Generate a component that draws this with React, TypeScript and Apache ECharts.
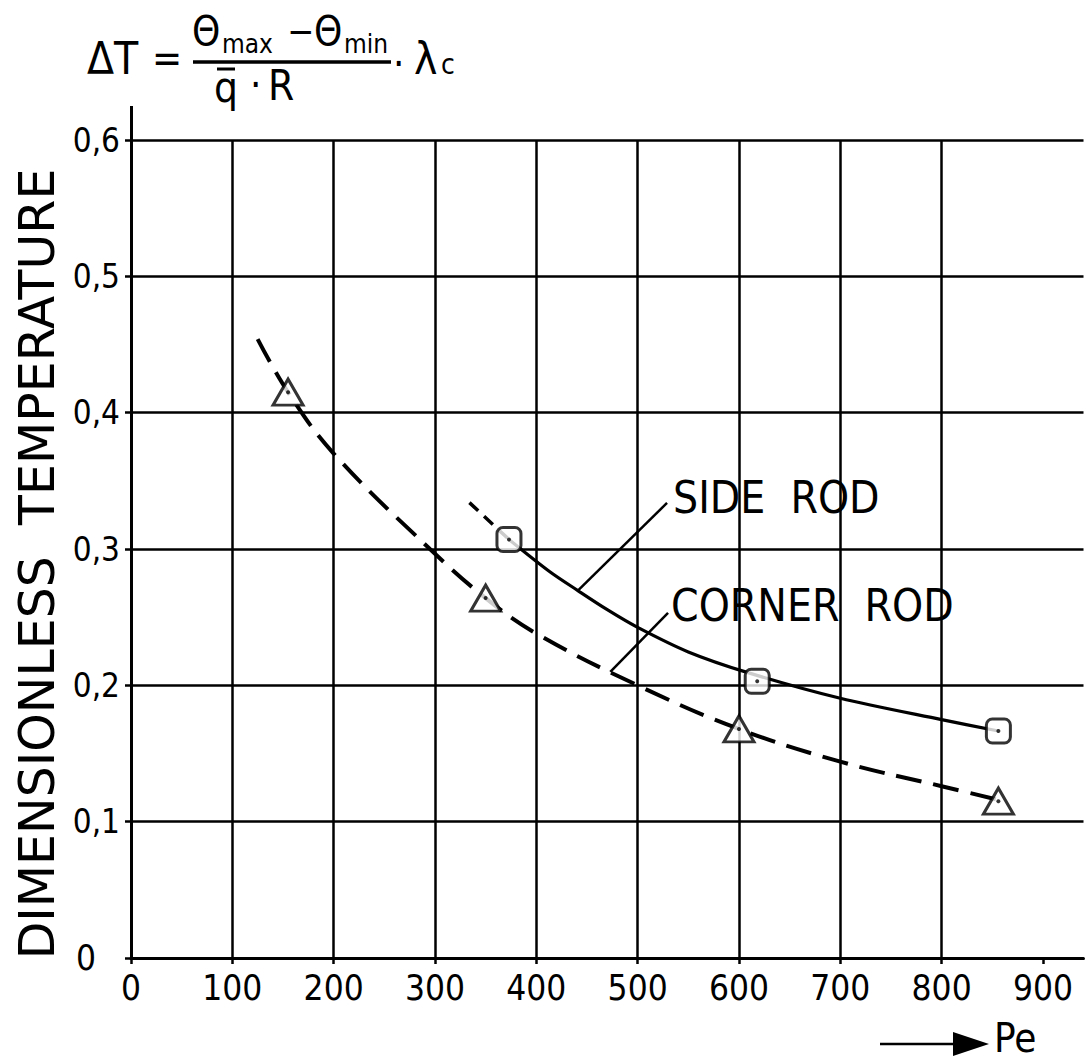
import React, { useEffect, useRef } from 'react';
import * as echarts from 'echarts';

// ---- data ----
const xTickValues = [0, 100, 200, 300, 400, 500, 600, 700, 800, 900];
const yTickValues = [0, 0.1, 0.2, 0.3, 0.4, 0.5, 0.6];

// measured points (Pe, dimensionless temperature)
const sideRodPoints = [
  [373, 0.307],
  [618, 0.203],
  [856, 0.1665],
];
const cornerRodPoints = [
  [155, 0.415],
  [350, 0.264],
  [600, 0.168],
  [856, 0.115],
];

// fitted curves
const sideRodCurveDashed = [
  [334, 0.334],
  [373, 0.307],
];
const sideRodCurve = [
  [373, 0.307],
  [413, 0.2835],
  [441, 0.2695],
  [470, 0.2555],
  [500, 0.2425],
  [550, 0.2245],
  [608, 0.2095],
  [700, 0.1905],
  [800, 0.1748],
  [856, 0.1665],
];
const cornerRodCurve = [
  [125, 0.454],
  [155, 0.415],
  [200, 0.37],
  [295, 0.3],
  [350, 0.264],
  [400, 0.238],
  [500, 0.2],
  [600, 0.168],
  [700, 0.144],
  [800, 0.126],
  [856, 0.116],
];

// leader lines of the labels
const sideRodLeader = [
  [441, 0.2695],
  [529, 0.3338],
];
const cornerRodLeader = [
  [473, 0.2098],
  [530, 0.2531],
];

const NUM_FONT = "'DejaVu Sans Condensed', sans-serif";
const TXT_FONT = "'DejaVu Sans Condensed', 'DejaVu Sans', sans-serif";

function App() {
  const ref = useRef<HTMLDivElement>(null);

  useEffect(() => {
    if (!ref.current) return;
    const chart = echarts.init(ref.current, undefined, { renderer: 'svg' });

    const txt = (x: number, y: number, text: string, size: number, align = 'left', font = TXT_FONT) => ({
      type: 'text',
      x,
      y,
      style: {
        text,
        fill: '#000',
        font: `${size}px ${font}`,
        textAlign: align,
        textVerticalAlign: 'middle',
      },
    });

    const option: any = {
      animation: false,
      backgroundColor: '#fff',
      grid: { left: 131, top: 140, width: 952.5, height: 818, containLabel: false, outerBoundsMode: 'none' },
      xAxis: {
        type: 'value',
        min: 0,
        max: 940,
        interval: 100,
        axisLine: { show: true, lineStyle: { color: '#000', width: 3 } },
        axisTick: { show: true, length: 6, inside: false, customValues: xTickValues, lineStyle: { color: '#000', width: 2.5 } },
        axisLabel: {
          customValues: xTickValues,
          margin: 12,
          color: '#000',
          fontSize: 35,
          fontFamily: NUM_FONT,
        },
        splitLine: { show: true, showMaxLine: false, lineStyle: { color: '#000', width: 2.5 } },
      },
      yAxis: {
        type: 'value',
        min: 0,
        max: 0.6,
        interval: 0.1,
        name: 'DIMENSIONLESS  TEMPERATURE',
        nameLocation: 'middle',
        nameRotate: 90,
        nameGap: 67,
        nameTextStyle: {
          color: '#000',
          fontSize: 49,
          fontFamily: "'DejaVu Sans', sans-serif",
          padding: [0, 30, 0, 0],
        },
        axisLine: { show: true, lineStyle: { color: '#000', width: 3 } },
        axisTick: { show: true, length: 6, inside: false, lineStyle: { color: '#000', width: 2.5 } },
        axisLabel: {
          margin: 11,
          color: '#000',
          fontSize: 33,
          fontFamily: NUM_FONT,
          formatter: (v: number) => (v === 0 ? '{z|0}' : v.toFixed(1).replace('.', ',')),
          rich: { z: { fontSize: 35, fontFamily: NUM_FONT, color: '#000', padding: [0, 24, 0, 0] } },
        },
        splitLine: { show: true, lineStyle: { color: '#000', width: 2.5 } },
      },
      series: [
        {
          name: 'CORNER ROD curve',
          type: 'line',
          data: cornerRodCurve,
          smooth: 0.4,
          symbol: 'none',
          lineStyle: { color: '#000', width: 4, type: [26, 12] },
          z: 3,
        },
        {
          name: 'SIDE ROD curve dashed',
          type: 'line',
          data: sideRodCurveDashed,
          symbol: 'none',
          lineStyle: { color: '#000', width: 3.5, type: [12, 8] },
          z: 3,
        },
        {
          name: 'SIDE ROD curve',
          type: 'line',
          data: sideRodCurve,
          smooth: 0.3,
          symbol: 'none',
          lineStyle: { color: '#000', width: 3.2 },
          z: 3,
        },
        {
          name: 'side leader',
          type: 'line',
          data: sideRodLeader,
          symbol: 'none',
          lineStyle: { color: '#000', width: 2.5 },
          z: 3,
        },
        {
          name: 'corner leader',
          type: 'line',
          data: cornerRodLeader,
          symbol: 'none',
          lineStyle: { color: '#000', width: 2.5 },
          z: 3,
        },
        {
          name: 'CORNER ROD',
          type: 'scatter',
          data: cornerRodPoints,
          symbol: 'triangle',
          symbolSize: [30, 26],
          itemStyle: { color: '#fff', borderColor: '#000', borderWidth: 3 },
          z: 5,
        },
        {
          name: 'SIDE ROD',
          type: 'scatter',
          data: sideRodPoints,
          symbol: 'roundRect',
          symbolSize: 24,
          itemStyle: { color: '#fff', borderColor: '#000', borderWidth: 3 },
          z: 5,
        },
        {
          name: 'dots',
          type: 'scatter',
          data: [...cornerRodPoints, ...sideRodPoints],
          symbol: 'circle',
          symbolSize: 4,
          itemStyle: { color: '#000' },
          z: 6,
        },
      ],
      graphic: [
        // y-axis extension above 0,6
        { type: 'line', shape: { x1: 131.5, y1: 106, x2: 131.5, y2: 141 }, style: { stroke: '#000', lineWidth: 3 } },
        // formula
        txt(87, 58, 'ΔT', 44),
        txt(152, 58, '=', 40),
        txt(192, 31, 'Θ', 40),
        txt(222, 44, 'max', 26),
        txt(287, 31, '−', 36),
        txt(314, 31, 'Θ', 40),
        txt(344, 44, 'min', 26),
        { type: 'line', shape: { x1: 193, y1: 62, x2: 391, y2: 62 }, style: { stroke: '#000', lineWidth: 3.5 } },
        txt(214, 87, 'q', 42),
        { type: 'line', shape: { x1: 217, y1: 69, x2: 235, y2: 69 }, style: { stroke: '#000', lineWidth: 3 } },
        txt(250, 85, '·', 40),
        txt(268, 85, 'R', 42),
        txt(393, 64, '·', 40),
        txt(414, 58, 'λ', 44),
        txt(441, 64, 'c', 28),
        // labels
        txt(673, 497, 'SIDE  ROD', 44),
        txt(671, 605, 'CORNER  ROD', 44),
        // Pe arrow
        { type: 'line', shape: { x1: 880, y1: 1044, x2: 956, y2: 1044 }, style: { stroke: '#000', lineWidth: 2.5 } },
        { type: 'polygon', shape: { points: [[953, 1032], [989, 1044], [953, 1056]] }, style: { fill: '#000' } },
        txt(994, 1038, 'Pe', 40),
      ],
    };

    chart.setOption(option);
    return () => chart.dispose();
  }, []);

  return (
    <div
      ref={ref}
      style={{ position: 'absolute', left: 0, top: 0, width: 1085, height: 1060, background: '#fff' }}
    />
  );
}

export default App;
